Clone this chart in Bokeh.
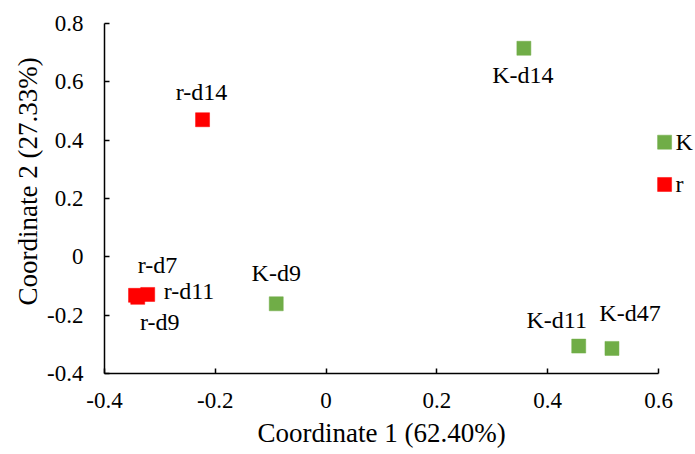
from bokeh.plotting import figure
from bokeh.models import Range1d, ColumnDataSource, FixedTicker, Title
from bokeh.core.properties import value
from bokeh.embed import file_html
from bokeh.resources import INLINE

# ---- data ----
names = ["K-d14", "K", "K-d9", "K-d11", "K-d47", "r-d14", "r", "r-d7", "r-d9", "r-d11"]
coord1 = [0.357, 0.611, -0.090, 0.456, 0.516, -0.223, 0.611, -0.344, -0.340, -0.322]
coord2 = [0.715, 0.393, -0.161, -0.306, -0.314, 0.470, 0.248, -0.132, -0.139, -0.129]
group = ["K", "K", "K", "K", "K", "r", "r", "r", "r", "r"]
x_ticks = [-0.4, -0.2, 0.0, 0.2, 0.4, 0.6]
x_tick_labels = ["-0.4", "-0.2", "0", "0.2", "0.4", "0.6"]
y_ticks = [-0.4, -0.2, 0.0, 0.2, 0.4, 0.6, 0.8]
y_tick_labels = ["-0.4", "-0.2", "0", "0.2", "0.4", "0.6", "0.8"]
x_title = "Coordinate 1 (62.40%)"
y_title = "Coordinate 2 (27.33%)"

# ---- styles ----
group_colors = {"K": "#70AD47", "r": "#FF0000"}
# label placement (screen px offsets from the marker, align)
label_pos = {
    "K-d14": (-1, 27, "center"),
    "K": (11, 0, "left"),
    "K-d9": (0, -31, "center"),
    "K-d11": (-22, -26, "center"),
    "K-d47": (18, -35, "center"),
    "r-d14": (-1, -28, "center"),
    "r": (11, 0, "left"),
    "r-d7": (22, -30, "center"),
    "r-d9": (22, 25, "center"),
    "r-d11": (16, -3, "left"),
}
FONT = "Liberation Serif"

src = ColumnDataSource(dict(
    x=coord1, y=coord2, name=names,
    color=[group_colors[g] for g in group],
    dx=[label_pos[n][0] for n in names],
    dy=[label_pos[n][1] for n in names],
    align=[label_pos[n][2] for n in names],
))

W, H = 695, 454
left, right, top, bottom = 104, 0, 5, 81
px_per_x = 554.0
px_per_y = 291.7
x_lo, x_hi = x_ticks[0], x_ticks[-1]
y_lo, y_hi = y_ticks[0], y_ticks[-1]
x_end = x_lo + (W - left - right) / px_per_x
y_end = y_lo + (H - top - bottom) / px_per_y

p = figure(width=W, height=H, output_backend="svg", toolbar_location=None,
           x_range=Range1d(x_lo, x_end), y_range=Range1d(y_lo, y_end),
           min_border_left=left, min_border_right=right,
           min_border_top=top, min_border_bottom=bottom)
p.outline_line_color = None
p.xgrid.visible = False
p.ygrid.visible = False
p.background_fill_color = "white"
p.border_fill_color = "white"

for ax, ticks, labels, bounds in ((p.xaxis[0], x_ticks, x_tick_labels, (x_lo, x_hi)),
                                  (p.yaxis[0], y_ticks, y_tick_labels, (y_lo, y_hi))):
    ax.ticker = FixedTicker(ticks=ticks)
    ax.major_label_overrides = {t: l for t, l in zip(ticks, labels)}
    ax.bounds = bounds
    ax.axis_line_color = "black"
    ax.axis_line_width = 1.5
    ax.major_tick_line_color = "black"
    ax.major_tick_line_width = 1.5
    ax.major_tick_in = 5
    ax.major_tick_out = 0
    ax.minor_tick_line_color = None
    ax.major_label_text_font = FONT
    ax.major_label_text_font_size = "23px"
    ax.major_label_text_color = "black"

p.xaxis.major_label_standoff = 19
p.yaxis.major_label_standoff = 21

# axis titles, centred on the axis lines (not on the wider frame)
p.add_layout(Title(text=x_title, align="left", offset=153, vertical_align="bottom",
                   text_font=FONT, text_font_size="27px", text_font_style="normal",
                   text_color="black", standoff=10), "below")
p.add_layout(Title(text=y_title, align="left", offset=68, vertical_align="middle",
                   text_font=FONT, text_font_size="27px", text_font_style="normal",
                   text_color="black", standoff=2), "left")

p.scatter("x", "y", source=src, marker="square", size=14,
          fill_color="color", line_color="color", line_width=0.5)
p.text("x", "y", text="name", source=src, x_offset="dx", y_offset="dy",
       text_align="align", text_baseline="middle",
       text_font=value(FONT), text_font_size="24px", text_color="black")

open("out.html", "w").write(file_html(p, INLINE))
